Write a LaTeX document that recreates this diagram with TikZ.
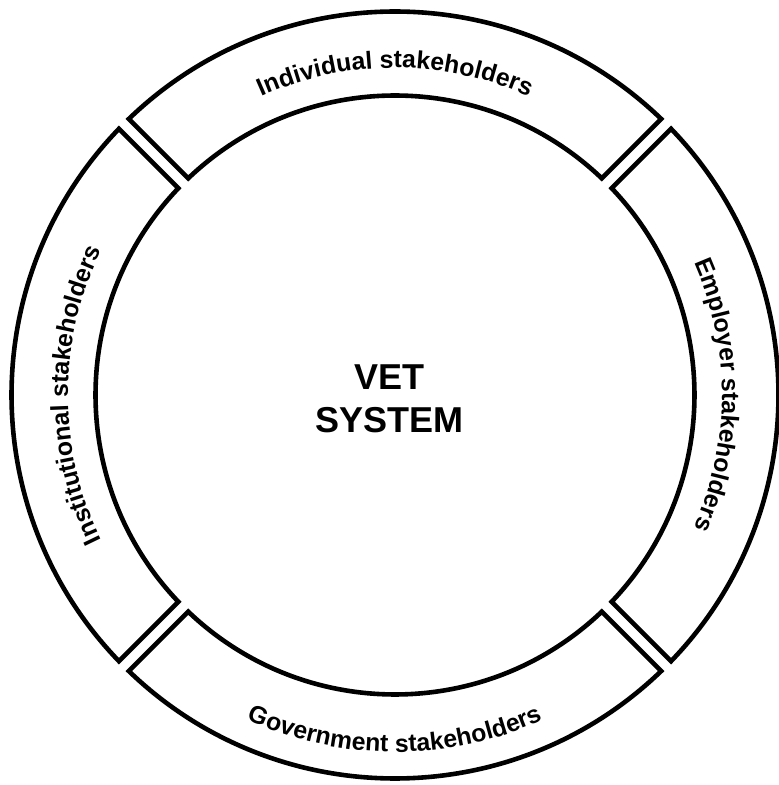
\documentclass[tikz,border=0pt]{standalone}
\usepackage{fontspec}
\setmainfont{Liberation Sans}
\usetikzlibrary{decorations.text}
\newcommand\bandfont{\bfseries\fontsize{12.4}{14}\selectfont}
\begin{document}
\begin{tikzpicture}[x=0.5pt, y=0.5pt, line join=miter,
  band/.style={draw=black, line width=2.3pt},
  bandlabel/.style={decorate, decoration={text along path, text align=center, text={|\bandfont|#1}}},
  centrelabel/.style={font=\bfseries\fontsize{18}{21.5}\selectfont, align=center}]
\useasboundingbox (-395,-390) rectangle (384,395);
% radii of the ring and the angular trims that keep a constant gap between segments
\def\Ro{383.5}
\def\Ri{299.5}
\def\ao{1.05}
\def\ai{1.34}
\foreach \m in {0,90,180,270} {
  \draw[band] (\m-45+\ao:\Ro) arc[start angle=\m-45+\ao, end angle=\m+45-\ao, radius=\Ro]
    -- (\m+45-\ai:\Ri) arc[start angle=\m+45-\ai, end angle=\m-45+\ai, radius=\Ri] -- cycle;
}
% labels set along the segments
\path[bandlabel={Individual stakeholders}] (135:327) arc[start angle=135, end angle=45, radius=327];
\path[bandlabel={Employer stakeholders}] (45:327) arc[start angle=45, end angle=-45, radius=327];
\path[bandlabel={Government stakeholders}] (225:357) arc[start angle=225, end angle=315, radius=357];
\path[bandlabel={Institutional stakeholders}] (225:327) arc[start angle=225, end angle=135, radius=327];
\node[centrelabel] (vet) at (-5.5,-3.5) {VET\\SYSTEM};
\end{tikzpicture}
\end{document}
